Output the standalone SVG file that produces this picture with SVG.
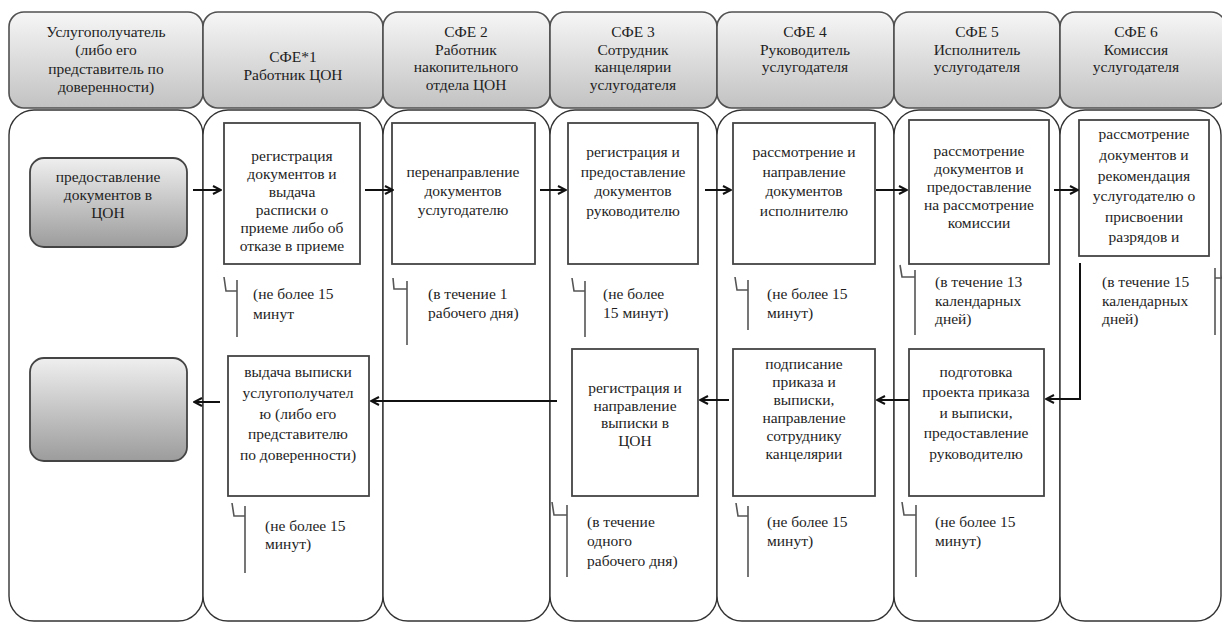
<svg xmlns="http://www.w3.org/2000/svg" width="1222" height="623" viewBox="0 0 1222 623">
<defs>
<linearGradient id="hg" x1="0" y1="0" x2="0" y2="1">
<stop offset="0" stop-color="#f6f6f6"/>
<stop offset="1" stop-color="#c2c2c2"/>
</linearGradient>
<linearGradient id="bg" x1="0" y1="0" x2="0" y2="1">
<stop offset="0" stop-color="#efefef"/>
<stop offset="1" stop-color="#9c9c9c"/>
</linearGradient>
<marker id="ah" viewBox="0 0 10 10" refX="9" refY="5" markerWidth="10" markerHeight="10" markerUnits="userSpaceOnUse" orient="auto">
<path d="M1,1 L9,5 L1,9" fill="none" stroke="#111" stroke-width="2"/>
</marker>
</defs>
<style>
.hdr{fill:url(#hg);stroke:#505050;stroke-width:1.6}
.lane{fill:#fff;stroke:#333;stroke-width:1.4}
.box{fill:#fff;stroke:#444;stroke-width:1.8}
.gbox{fill:url(#bg);stroke:#444;stroke-width:1.8}
.t{font-family:'Liberation Serif','DejaVu Serif','Noto Serif',serif;font-size:15.5px;fill:#1e1e1e}
.c{text-anchor:middle}
.br{fill:none;stroke:#555;stroke-width:1.6}
.con{fill:none;stroke:#111;stroke-width:2;marker-end:url(#ah)}
</style>
<rect width="1222" height="623" fill="#fff"/>

<g id="lanes">
<rect class="lane" x="9" y="110" width="194" height="511" rx="25"/>
<rect class="lane" x="203" y="110" width="180" height="511" rx="25"/>
<rect class="lane" x="383" y="110" width="167" height="511" rx="25"/>
<rect class="lane" x="550" y="110" width="167" height="511" rx="25"/>
<rect class="lane" x="717" y="110" width="177" height="511" rx="25"/>
<rect class="lane" x="894" y="110" width="166" height="511" rx="25"/>
<rect class="lane" x="1060" y="110" width="161" height="511" rx="25"/>
</g>

<g id="headers" font-family="Liberation Serif, DejaVu Serif, serif">
<g id="h0"><rect class="hdr" x="9" y="12" width="194" height="96" rx="15"/>
<text class="t c" x="106"><tspan x="106" y="37">Услугополучатель</tspan><tspan x="106" y="55">(либо его</tspan><tspan x="106" y="74">представитель по</tspan><tspan x="106" y="92">доверенности)</tspan></text></g>
<g id="h1"><rect class="hdr" x="203" y="12" width="180" height="96" rx="15"/>
<text class="t c"><tspan x="293" y="62">СФЕ*1</tspan><tspan x="293" y="80">Работник ЦОН</tspan></text></g>
<g id="h2"><rect class="hdr" x="383" y="12" width="167" height="96" rx="15"/>
<text class="t c"><tspan x="466" y="37">СФЕ 2</tspan><tspan x="466" y="55">Работник</tspan><tspan x="466" y="72">накопительного</tspan><tspan x="466" y="90">отдела ЦОН</tspan></text></g>
<g id="h3"><rect class="hdr" x="550" y="12" width="167" height="96" rx="15"/>
<text class="t c"><tspan x="633" y="37">СФЕ 3</tspan><tspan x="633" y="55">Сотрудник</tspan><tspan x="633" y="72">канцелярии</tspan><tspan x="633" y="90">услугодателя</tspan></text></g>
<g id="h4"><rect class="hdr" x="717" y="12" width="177" height="96" rx="15"/>
<text class="t c"><tspan x="805" y="37">СФЕ 4</tspan><tspan x="805" y="55">Руководитель</tspan><tspan x="805" y="72">услугодателя</tspan></text></g>
<g id="h5"><rect class="hdr" x="894" y="12" width="166" height="96" rx="15"/>
<text class="t c"><tspan x="977" y="37">СФЕ 5</tspan><tspan x="977" y="55">Исполнитель</tspan><tspan x="977" y="72">услугодателя</tspan></text></g>
<g id="h6"><rect class="hdr" x="1060" y="12" width="166" height="96" rx="15"/>
<text class="t c"><tspan x="1136" y="37">СФЕ 6</tspan><tspan x="1136" y="55">Комиссия</tspan><tspan x="1136" y="72">услугодателя</tspan></text></g>
</g>

<g id="n_r1c0"><rect class="gbox" x="30" y="158" width="157" height="89" rx="14"/>
<text class="t c"><tspan x="108" y="182">предоставление</tspan><tspan x="108" y="200">документов в</tspan><tspan x="108" y="218">ЦОН</tspan></text></g>

<g id="n_r1c1"><rect class="box" x="224" y="123" width="136" height="141"/>
<text class="t c"><tspan x="292" y="161">регистрация</tspan><tspan x="292" y="179">документов и</tspan><tspan x="292" y="197">выдача</tspan><tspan x="292" y="215">расписки о</tspan><tspan x="292" y="233">приеме либо об</tspan><tspan x="292" y="251">отказе в приеме</tspan></text></g>

<g id="n_r1c2"><rect class="box" x="392" y="123" width="143" height="141"/>
<text class="t c"><tspan x="463" y="177">перенаправление</tspan><tspan x="463" y="196">документов</tspan><tspan x="463" y="215">услугодателю</tspan></text></g>

<g id="n_r1c3"><rect class="box" x="568" y="123" width="130" height="141"/>
<text class="t c"><tspan x="633" y="157">регистрация и</tspan><tspan x="633" y="177">предоставление</tspan><tspan x="633" y="196">документов</tspan><tspan x="633" y="216">руководителю</tspan></text></g>

<g id="n_r1c4"><rect class="box" x="733" y="123" width="142" height="141"/>
<text class="t c"><tspan x="804" y="157">рассмотрение и</tspan><tspan x="804" y="177">направление</tspan><tspan x="804" y="196">документов</tspan><tspan x="804" y="216">исполнителю</tspan></text></g>

<g id="n_r1c5"><rect class="box" x="909" y="120" width="140" height="144"/>
<text class="t c"><tspan x="979" y="156">рассмотрение</tspan><tspan x="979" y="174">документов и</tspan><tspan x="979" y="192">предоставление</tspan><tspan x="979" y="210">на рассмотрение</tspan><tspan x="979" y="228">комиссии</tspan></text></g>

<g id="n_r1c6"><rect class="box" x="1079" y="120" width="130" height="136"/>
<text class="t c"><tspan x="1144" y="139">рассмотрение</tspan><tspan x="1144" y="160">документов и</tspan><tspan x="1144" y="181">рекомендация</tspan><tspan x="1144" y="201">услугодателю о</tspan><tspan x="1144" y="222">присвоении</tspan><tspan x="1144" y="242">разрядов и</tspan></text></g>

<g id="n_r2c0"><rect class="gbox" x="30" y="358" width="157" height="103" rx="14"/></g>

<g id="n_r2c1"><rect class="box" x="228" y="356" width="141" height="140"/>
<text class="t c"><tspan x="298" y="377">выдача выписки</tspan><tspan x="298" y="398">услугополучател</tspan><tspan x="298" y="419">ю (либо его</tspan><tspan x="298" y="439">представителю</tspan><tspan x="298" y="460">по доверенности)</tspan></text></g>

<g id="n_r2c3"><rect class="box" x="572" y="349" width="126" height="147"/>
<text class="t c"><tspan x="635" y="393">регистрация и</tspan><tspan x="635" y="411">направление</tspan><tspan x="635" y="428">выписки в</tspan><tspan x="635" y="446">ЦОН</tspan></text></g>

<g id="n_r2c4"><rect class="box" x="733" y="349" width="142" height="147"/>
<text class="t c"><tspan x="804" y="369">подписание</tspan><tspan x="804" y="387">приказа и</tspan><tspan x="804" y="405">выписки,</tspan><tspan x="804" y="423">направление</tspan><tspan x="804" y="441">сотруднику</tspan><tspan x="804" y="459">канцелярии</tspan></text></g>

<g id="n_r2c5"><rect class="box" x="909" y="349" width="135" height="147"/>
<text class="t c"><tspan x="976" y="377">подготовка</tspan><tspan x="976" y="397">проекта приказа</tspan><tspan x="976" y="418">и выписки,</tspan><tspan x="976" y="438">предоставление</tspan><tspan x="976" y="459">руководителю</tspan></text></g>

<g id="notes">
<path class="br" d="M224,277 L226,291 L237,291 M237,280 V337"/>
<text class="t"><tspan x="253" y="299">(не более 15</tspan><tspan x="253" y="319">минут</tspan></text>
<path class="br" d="M393,278 L394,289 L407,289 M407,281 V345"/>
<text class="t"><tspan x="428" y="299">(в течение 1</tspan><tspan x="428" y="318">рабочего дня)</tspan></text>
<path class="br" d="M572,278 L574,291 L585,291 M585,281 V337"/>
<text class="t"><tspan x="603" y="299">(не более</tspan><tspan x="603" y="318">15 минут)</tspan></text>
<path class="br" d="M735,277 L737,290 L748,290 M748,280 V330"/>
<text class="t"><tspan x="767" y="299">(не более 15</tspan><tspan x="767" y="318">минут)</tspan></text>
<path class="br" d="M900,265 L902,277 L915,277 M915,270 V335"/>
<text class="t"><tspan x="935" y="287">(в течение 13</tspan><tspan x="935" y="306">календарных</tspan><tspan x="935" y="324">дней)</tspan></text>
<path class="br" d="M1224,270 L1222,278 L1215,278 M1215,268 V335"/>
<text class="t"><tspan x="1102" y="287">(в течение 15</tspan><tspan x="1102" y="306">календарных</tspan><tspan x="1102" y="324">дней)</tspan></text>

<path class="br" d="M232,503 L234,516 L245,516 M245,506 V573"/>
<text class="t"><tspan x="265" y="531">(не более 15</tspan><tspan x="265" y="549">минут)</tspan></text>
<path class="br" d="M552,502 L554,515 L567,515 M567,505 V577"/>
<text class="t"><tspan x="587" y="527">(в течение</tspan><tspan x="587" y="546">одного</tspan><tspan x="587" y="566">рабочего дня)</tspan></text>
<path class="br" d="M736,503 L738,516 L748,516 M748,506 V577"/>
<text class="t"><tspan x="767" y="527">(не более 15</tspan><tspan x="767" y="546">минут)</tspan></text>
<path class="br" d="M902,502 L904,515 L916,515 M916,505 V577"/>
<text class="t"><tspan x="935" y="527">(не более 15</tspan><tspan x="935" y="546">минут)</tspan></text>
</g>

<g id="connectors">
<path class="con" d="M193,190 H221"/>
<path class="con" d="M365,190 H393"/>
<path class="con" d="M540,190 H566"/>
<path class="con" d="M705,190 H731"/>
<path class="con" d="M876,190 H907"/>
<path class="con" d="M1054,190 H1078"/>
<path class="con" d="M1080,263 V399 H1046"/>
<path class="con" d="M909,400 H877"/>
<path class="con" d="M729,400 H700"/>
<path class="con" d="M557,401 H371"/>
<path class="con" d="M220,402 H194"/>
</g>
</svg>
